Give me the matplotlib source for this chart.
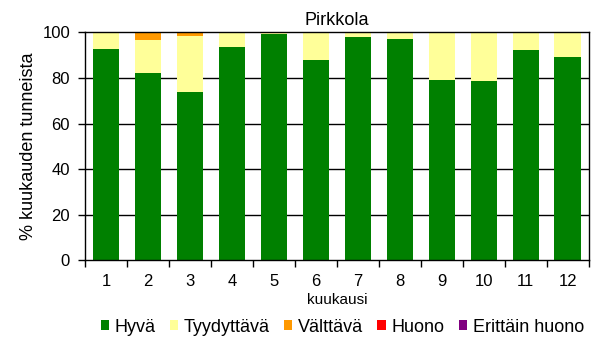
import numpy as np
import matplotlib
matplotlib.use("Agg")
import matplotlib.pyplot as plt

plt.rcParams['font.family'] = ['Liberation Sans', 'DejaVu Sans']

months = [1, 2, 3, 4, 5, 6, 7, 8, 9, 10, 11, 12]

# share of hours per month in each air quality class (%)
hyva = [92.5, 82.2, 73.8, 93.4, 99.1, 87.7, 97.8, 96.9, 78.9, 78.5, 92.1, 89.0]
tyydyttava = [7.2, 14.3, 24.4, 6.6, 0.9, 12.3, 2.2, 3.1, 21.1, 21.1, 7.6, 10.7]
valttava = [0.0, 3.2, 1.8, 0.0, 0.0, 0.0, 0.0, 0.0, 0.0, 0.4, 0.3, 0.3]
huono = [0.0, 0.3, 0.0, 0.0, 0.0, 0.0, 0.0, 0.0, 0.0, 0.0, 0.0, 0.0]
erittain_huono = [0.3, 0.0, 0.0, 0.0, 0.0, 0.0, 0.0, 0.0, 0.0, 0.0, 0.0, 0.0]

series = [
    ("Hyvä", hyva, "#008000"),
    ("Tyydyttävä", tyydyttava, "#ffff99"),
    ("Välttävä", valttava, "#ff9900"),
    ("Huono", huono, "#ff0000"),
    ("Erittäin huono", erittain_huono, "#800080"),
]

fig = plt.figure(figsize=(6.05, 3.48), dpi=100)
ax = fig.add_axes([0.141, 0.252, 0.832, 0.655])

bottom = np.zeros(len(months))
for name, vals, col in series:
    ax.bar(months, vals, bottom=bottom, width=0.63, color=col, label=name, zorder=2)
    bottom += np.array(vals)

ax.set_xlim(0.5, 12.5)
ax.set_ylim(0, 100)
ax.set_yticks(range(0, 101, 20))
for y in range(20, 100, 20):
    ax.axhline(y, color="black", lw=1, zorder=1)

ax.set_xticks(months)
ax.set_xticks(np.arange(0.5, 13, 1), minor=True)
ax.tick_params(axis="x", which="major", length=0, pad=10, labelsize=12)
ax.tick_params(axis="x", which="minor", length=5, width=1, direction="out")
ax.tick_params(axis="y", length=5, width=1, direction="out", labelsize=12, pad=6)
for s in ax.spines.values():
    s.set_linewidth(1)
    s.set_color("black")

ax.set_title("Pirkkola", fontsize=13, pad=5)
ax.set_xlabel("kuukausi", fontsize=11, labelpad=3)
ax.set_ylabel("% kuukauden tunneista", fontsize=13, labelpad=4)

fig.legend(loc="center", bbox_to_anchor=(0.566, 0.06), ncol=5, frameon=False,
           fontsize=13, handlelength=0.45, handleheight=0.45, handletextpad=0.33,
           columnspacing=0.78)

fig.savefig("out.png", dpi=100)
